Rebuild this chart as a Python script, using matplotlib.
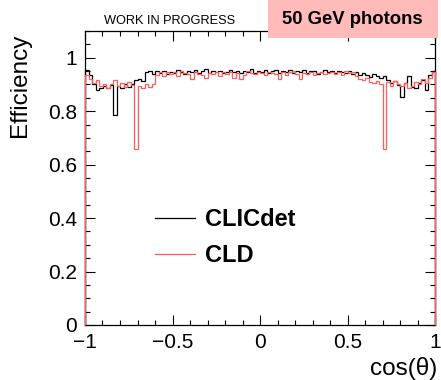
import numpy as np
import matplotlib

matplotlib.use("Agg")
import matplotlib.pyplot as plt
from matplotlib.patches import Rectangle
from matplotlib.ticker import MultipleLocator, FuncFormatter

plt.rcParams["font.family"] = ["Liberation Sans", "DejaVu Sans"]

# 100 bins in cos(theta), from -1 to 1
edges = np.linspace(-1.0, 1.0, 101)

clicdet = [
    0.955, 0.935, 0.900, 0.880, 0.888, 0.895, 0.885, 0.898, 0.785, 0.893,
    0.888, 0.900, 0.892, 0.903, 0.915, 0.920, 0.912, 0.945, 0.950, 0.938,
    0.950, 0.944, 0.952, 0.938, 0.948, 0.942, 0.955, 0.946, 0.940, 0.951,
    0.947, 0.953, 0.944, 0.949, 0.957, 0.943, 0.950, 0.946, 0.952, 0.941,
    0.948, 0.955, 0.945, 0.950, 0.943, 0.952, 0.947, 0.956, 0.944, 0.950,
    0.946, 0.953, 0.941, 0.949, 0.955, 0.944, 0.951, 0.947, 0.953, 0.942,
    0.950, 0.946, 0.955, 0.943, 0.949, 0.952, 0.940, 0.948, 0.954, 0.945,
    0.950, 0.943, 0.951, 0.946, 0.944, 0.952, 0.940, 0.947, 0.935, 0.943,
    0.935, 0.928, 0.940, 0.930, 0.925, 0.932, 0.918, 0.905, 0.912, 0.898,
    0.852, 0.905, 0.930, 0.892, 0.885, 0.905, 0.915, 0.880, 0.935, 0.950,
]

cld = [
    0.935, 0.920, 0.905, 0.915, 0.895, 0.900, 0.888, 0.902, 0.915, 0.896,
    0.905, 0.890, 0.908, 0.898, 0.660, 0.895, 0.888, 0.902, 0.890, 0.900,
    0.935, 0.945, 0.930, 0.948, 0.940, 0.946, 0.932, 0.950, 0.943, 0.938,
    0.920, 0.947, 0.940, 0.935, 0.925, 0.944, 0.938, 0.946, 0.930, 0.945,
    0.940, 0.948, 0.925, 0.942, 0.922, 0.936, 0.950, 0.943, 0.939, 0.947,
    0.941, 0.935, 0.948, 0.944, 0.940, 0.920, 0.947, 0.936, 0.945, 0.950,
    0.938, 0.922, 0.944, 0.940, 0.948, 0.935, 0.942, 0.946, 0.939, 0.944,
    0.948, 0.940, 0.945, 0.937, 0.950, 0.943, 0.946, 0.930, 0.920, 0.915,
    0.925, 0.910, 0.905, 0.912, 0.900, 0.660, 0.908, 0.895, 0.912, 0.900,
    0.893, 0.905, 0.888, 0.895, 0.910, 0.902, 0.920, 0.905, 0.925, 0.945,
]

RED = "#ff5c5c"

fig = plt.figure(figsize=(4.41, 3.80), dpi=100)
ax = fig.add_axes([85 / 441, 1 - 325 / 380, 350 / 441, 294 / 380])

ax.stairs(clicdet, edges, baseline=0, color="black", lw=0.9, label="CLICdet",
          zorder=3, clip_on=False)
ax.stairs(cld, edges, baseline=0, color=RED, lw=0.9, label="CLD",
          zorder=3.1, clip_on=False)

ax.set_xlim(-1, 1)
ax.set_ylim(0, 1.1)


def fmt(v, _pos):
    return f"{v:g}".replace("-", "\u2212")


ax.xaxis.set_major_locator(MultipleLocator(0.5))
ax.xaxis.set_minor_locator(MultipleLocator(0.1))
ax.yaxis.set_major_locator(MultipleLocator(0.2))
ax.yaxis.set_minor_locator(MultipleLocator(0.05))
ax.xaxis.set_major_formatter(FuncFormatter(fmt))
ax.yaxis.set_major_formatter(FuncFormatter(fmt))
ax.tick_params(which="both", direction="in", top=True, right=True, width=0.8, labelsize=15)
ax.tick_params(which="major", length=7)
ax.tick_params(which="minor", length=3.5)
ax.tick_params(axis="x", pad=6)
ax.tick_params(axis="y", pad=5.5)
for s in ax.spines.values():
    s.set_linewidth(0.9)

fig.text(20 / 441, 1 - 85 / 380, "Efficiency", rotation=90, fontsize=17.5,
         ha="center", va="center")
fig.text(437 / 441, 1 - 368 / 380, "cos(\u03b8)", fontsize=17.5, ha="right", va="center")

leg = ax.legend(loc="center left", bbox_to_anchor=(0.2, 0.296), frameon=False,
                prop={"weight": "bold", "size": 17},
                handlelength=1.7, handletextpad=0.4, labelspacing=0.55,
                borderpad=0, borderaxespad=0)

fig.text(170 / 441, 1 - 21 / 380, "WORK IN PROGRESS", fontsize=9.2, ha="center", va="center")
fig.add_artist(Rectangle((268 / 441, 1 - 38 / 380), 170 / 441, 38 / 380,
                         transform=fig.transFigure, facecolor="#ffbaba",
                         edgecolor="none", zorder=10))
fig.text(352 / 441, 1 - 20 / 380, "50 GeV photons", fontsize=13.3, fontweight="bold",
         ha="center", va="center", zorder=11)

fig.savefig("out.png", dpi=100)
